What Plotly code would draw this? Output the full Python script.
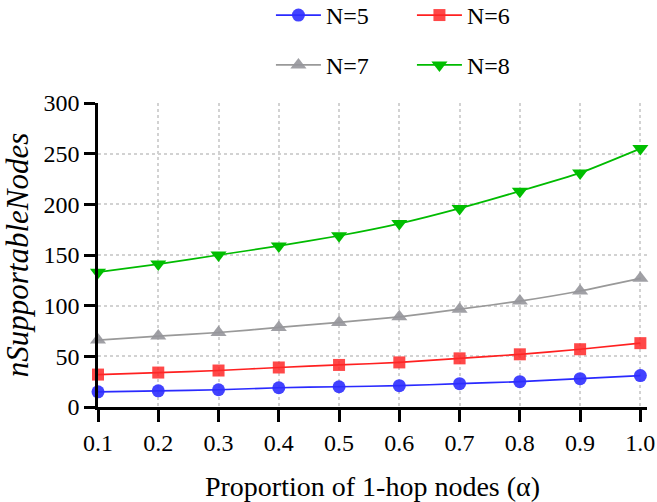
import plotly.graph_objects as go

alpha = [0.1, 0.2, 0.3, 0.4, 0.5, 0.6, 0.7, 0.8, 0.9, 1.0]
n5 = [15, 16, 17, 19, 20, 21, 23, 25, 28, 31]
n6 = [32, 34, 36, 39, 41.5, 44, 48, 52, 57, 63]
n7 = [66, 70, 73.5, 78.5, 83.5, 89, 96.5, 104.5, 114.5, 127]
n8 = [133, 141, 150, 159, 169, 181, 196, 213, 231, 255]
x_ticks = [0.1, 0.2, 0.3, 0.4, 0.5, 0.6, 0.7, 0.8, 0.9, 1.0]
x_tick_text = ["0.1", "0.2", "0.3", "0.4", "0.5", "0.6", "0.7", "0.8", "0.9", "1.0"]
y_ticks = [0, 50, 100, 150, 200, 250, 300]

FONT = "Liberation Serif, Times New Roman, serif"

series = [
    ("N=5", n5, "circle", 13, "rgba(45,45,255,0.9)", "#2a2aff", "legend"),
    ("N=6", n6, "square", 12, "rgba(255,40,40,0.85)", "#ff2020", "legend"),
    ("N=7", n7, "triangle-up", 14, "rgba(150,150,155,0.9)", "#999999", "legend2"),
    ("N=8", n8, "triangle-down", 14, "rgba(0,190,0,1)", "#00bb00", "legend2"),
]

fig = go.Figure()
for name, vals, sym, size, fill, lc, lg in series:
    fig.add_trace(go.Scatter(
        x=alpha, y=vals, name=name, mode="lines+markers",
        line=dict(color=lc, width=1.7, shape="spline", smoothing=0.5),
        marker=dict(symbol=sym, size=size, color=fill, line=dict(width=0)),
        cliponaxis=False, legend=lg,
    ))

leg_common = dict(orientation="h", xanchor="left", yanchor="middle",
                  font=dict(size=24, family=FONT), entrywidth=81,
                  itemwidth=45, bgcolor="rgba(0,0,0,0)")

fig.update_layout(
    width=657, height=502,
    margin=dict(l=98, r=10, t=103, b=95, autoexpand=False),
    plot_bgcolor="white", paper_bgcolor="white",
    font=dict(family=FONT, size=24, color="black"),
    showlegend=True,
    legend=dict(x=0.315, y=1.288, **leg_common),
    legend2=dict(x=0.315, y=1.124, **leg_common),
    xaxis=dict(
        range=[0.1, 1.011], tickvals=x_ticks, ticktext=x_tick_text,
        showline=True, linecolor="black", linewidth=2.5,
        ticks="outside", ticklen=12, tickwidth=2.5, tickcolor="black",
        showgrid=True, gridcolor="#d2d2d2", griddash="3px,3px", gridwidth=1.5,
        zeroline=False, tickfont=dict(size=24, family=FONT),
        title=dict(text="Proportion of 1-hop nodes (α)", font=dict(size=28, family=FONT), standoff=22),
    ),
    yaxis=dict(
        range=[0, 300], tickvals=y_ticks,
        showline=True, linecolor="black", linewidth=2.5,
        ticks="outside", ticklen=11, tickwidth=2.5, tickcolor="black",
        showgrid=True, gridcolor="#d2d2d2", griddash="3px,3px", gridwidth=1.5,
        zeroline=False, tickfont=dict(size=24, family=FONT),
        title=dict(text="<i>nSupportableNodes</i>", font=dict(size=31, family=FONT), standoff=8),
    ),
)

fig.write_html("out.html", config={"displayModeBar": False},
               post_script="document.body.style.margin='0';")
